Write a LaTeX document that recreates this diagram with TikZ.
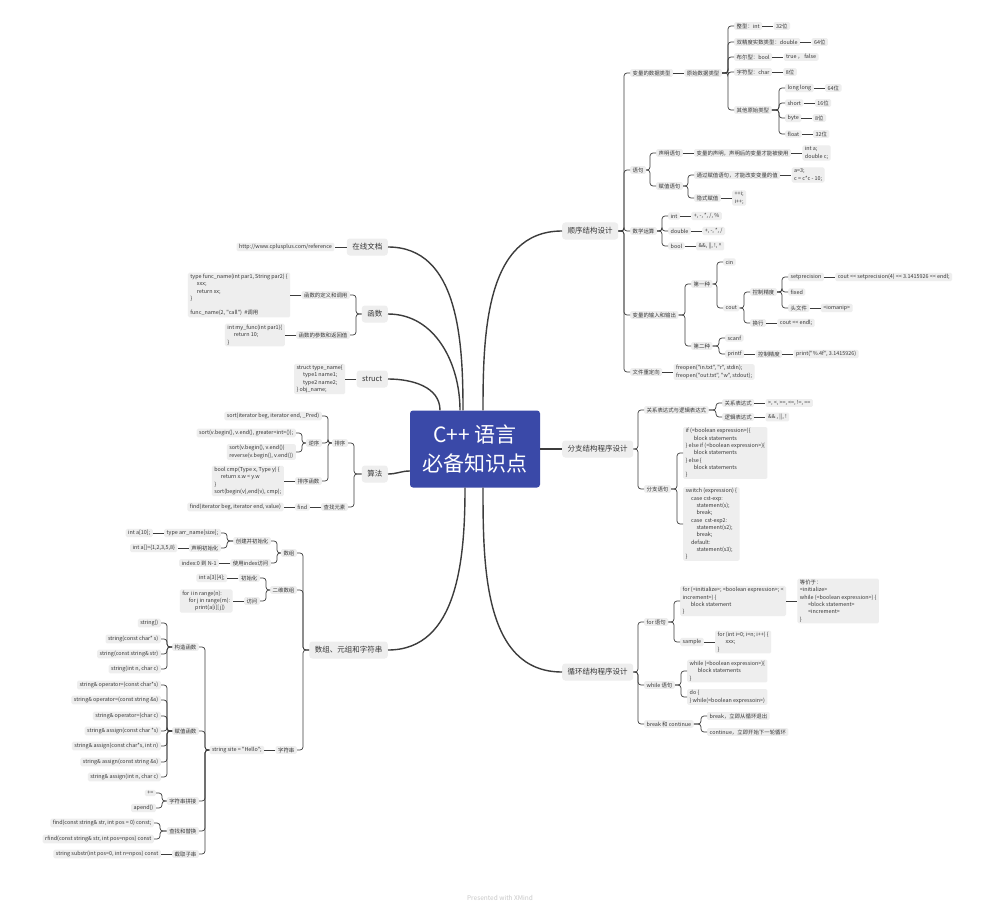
\documentclass[tikz,border=0pt]{standalone}
\usepackage{fontspec}
\newfontfamily\xmfont{Noto Sans CJK SC}
\usetikzlibrary{calc,positioning}
\definecolor{rootblue}{RGB}{58,73,168}
\definecolor{boxgray}{RGB}{238,238,238}
\definecolor{inkgray}{RGB}{55,55,55}
\definecolor{wiregray}{RGB}{60,60,60}
\definecolor{footgray}{RGB}{200,200,200}
% elbow links: spine sits 6pt before the child
\newcommand{\rlink}[2]{\draw[link] let \p1=(#2.west), \p2=(#1.east) in (\p2) -- (\x1-6pt,\y2) |- (\p1);}
\newcommand{\llink}[2]{\draw[link] let \p1=(#2.east), \p2=(#1.west) in (\p2) -- (\x1+6pt,\y2) |- (\p1);}
\tikzset{
  root/.style={fill=rootblue, text=white, rounded corners=3pt, minimum width=130pt, minimum height=77pt, inner sep=0pt, align=center, font=\xmfont\fontsize{21}{29}\selectfont},
  topic/.style={fill=boxgray, text=inkgray, rounded corners=3pt, inner xsep=5.5pt, inner ysep=0pt, minimum height=17pt, font=\xmfont\fontsize{7.5}{9}\selectfont},
  leaf/.style={fill=boxgray, text=inkgray, rounded corners=1.5pt, inner xsep=2.5pt, inner ysep=1.4pt, align=left, font=\xmfont\fontsize{5.4}{7.3}\selectfont},
  rtopic/.style={topic, anchor=west}, ltopic/.style={topic, anchor=east},
  rleaf/.style={leaf, anchor=west}, lleaf/.style={leaf, anchor=east},
  link/.style={draw=wiregray, line width=0.7pt, rounded corners=3pt},
  trunk/.style={draw=wiregray, line width=1.4pt},
}

\begin{document}
\begin{tikzpicture}[x=1pt,y=-1pt]
        \fill[white] (0,0) rectangle (1000,909);
        \useasboundingbox (0,0) rectangle (1000,909);
        \node[root] (core) at (475,449) {C++ 语言\\必备知识点};
        \node[rtopic] (seq)  at (562,231) {顺序结构设计};
        \node[rtopic] (br)   at (562,449) {分支结构程序设计};
        \node[rtopic] (loop) at (562,672) {循环结构程序设计};
        \node[ltopic] (doc)  at (388,247) {在线文档};
        \node[ltopic] (func) at (388,314) {函数};
        \node[ltopic] (stru) at (388,379) {struct};
        \node[ltopic] (algo) at (388,474) {算法};
        \node[ltopic] (arr)  at (388,650) {数组、元组和字符串};
        \draw[trunk] ([xshift=8pt]core.north) to[out=90,in=180] (seq.west);
        \draw[trunk] (core.east) -- (br.west);
        \draw[trunk] ([xshift=8pt]core.south) to[out=-90,in=180] (loop.west);
        \draw[trunk] ([xshift=-12pt]core.north) to[out=90,in=0] (doc.east);
        \draw[trunk] ([xshift=-15pt]core.north) to[out=90,in=0] (func.east);
        \draw[trunk] ([xshift=-35pt]core.north) to[out=90,in=0] (stru.east);
        \draw[trunk] ([yshift=-22pt]core.west) to[out=180,in=0] (algo.east);
        \draw[trunk] ([xshift=-10pt]core.south) to[out=-90,in=0] (arr.east);

        % 顺序结构设计
        \node[rleaf] (vtype) at (630,73)  {变量的数据类型};
        \node[rleaf] (stmt)  at (630,170) {语句};
        \node[rleaf] (ops)   at (630,231) {数学运算};
        \node[rleaf] (io)    at (630,315) {变量的输入和输出};
        \node[rleaf] (redir) at (630,372) {文件重定向};
        \rlink{seq}{vtype} \rlink{seq}{stmt} \rlink{seq}{ops} \rlink{seq}{io} \rlink{seq}{redir}
        \node[rleaf, right=11pt of vtype] (prim) {原始数据类型};
        \draw[link] (vtype) -- (prim);
        \node[rleaf] (tint)  at (734,26)  {整型：int};
        \node[rleaf] (tdbl)  at (734,42)  {双精度实数类型：double};
        \node[rleaf] (tbool) at (734,57)  {布尔型：bool};
        \node[rleaf] (tchr)  at (734,72)  {字符型：char};
        \node[rleaf] (tmore) at (734,110) {其他原始类型};
        \rlink{prim}{tint} \rlink{prim}{tdbl} \rlink{prim}{tbool} \rlink{prim}{tchr} \rlink{prim}{tmore}
        \node[rleaf, right=11pt of tint]  (tintv)  {32位};
        \node[rleaf, right=11pt of tdbl]  (tdblv)  {64位};
        \node[rleaf, right=11pt of tbool] (tboolv) {true ， false};
        \node[rleaf, right=11pt of tchr]  (tchrv)  {8位};
        \draw[link] (tint) -- (tintv); \draw[link] (tdbl) -- (tdblv);
        \draw[link] (tbool) -- (tboolv); \draw[link] (tchr) -- (tchrv);
        \node[rleaf] (tll) at (785,88)  {long long};
        \node[rleaf] (tsh) at (785,103) {short};
        \node[rleaf] (tby) at (785,118) {byte};
        \node[rleaf] (tfl) at (785,134) {float};
        \rlink{tmore}{tll} \rlink{tmore}{tsh} \rlink{tmore}{tby} \rlink{tmore}{tfl}
        \node[rleaf, right=11pt of tll] (tllv) {64位};
        \node[rleaf, right=11pt of tsh] (tshv) {16位};
        \node[rleaf, right=11pt of tby] (tbyv) {8位};
        \node[rleaf, right=11pt of tfl] (tflv) {32位};
        \draw[link] (tll) -- (tllv); \draw[link] (tsh) -- (tshv);
        \draw[link] (tby) -- (tbyv); \draw[link] (tfl) -- (tflv);

        \node[rleaf] (decl) at (656,153) {声明语句};
        \node[rleaf] (asg)  at (656,186) {赋值语句};
        \rlink{stmt}{decl} \rlink{stmt}{asg}
        \node[rleaf, right=11pt of decl] (decl2) {变量的声明，声明后的变量才能被使用};
        \node[rleaf, right=11pt of decl2] (decl3) {int a;\\double c;};
        \draw[link] (decl) -- (decl2); \draw[link] (decl2) -- (decl3);
        \node[rleaf] (asg1) at (694,175) {通过赋值语句，才能改变变量的值};
        \node[rleaf] (asg2) at (694,198) {隐式赋值};
        \rlink{asg}{asg1} \rlink{asg}{asg2}
        \node[rleaf, right=11pt of asg1] (asg1b) {a=3;\\c = c*c - 10;};
        \node[rleaf, right=11pt of asg2] (asg2b) {++i;\\i++;};
        \draw[link] (asg1) -- (asg1b); \draw[link] (asg2) -- (asg2b);

        \node[rleaf] (mint)  at (668,216) {int};
        \node[rleaf] (mdbl)  at (668,231) {double};
        \node[rleaf] (mbool) at (668,246) {bool};
        \rlink{ops}{mint} \rlink{ops}{mdbl} \rlink{ops}{mbool}
        \node[rleaf, right=11pt of mint]  (mint2)  {+, -, *, /, \%};
        \node[rleaf, right=11pt of mdbl]  (mdbl2)  {+, -, *, /};
        \node[rleaf, right=11pt of mbool] (mbool2) {\&\&, ||, !, \textasciicircum};
        \draw[link] (mint) -- (mint2); \draw[link] (mdbl) -- (mdbl2); \draw[link] (mbool) -- (mbool2);

        \node[rleaf] (way1) at (691,284) {第一种};
        \node[rleaf] (way2) at (691,346) {第二种};
        \rlink{io}{way1} \rlink{io}{way2}
        \node[rleaf] (cin)  at (723,262) {cin};
        \node[rleaf] (cout) at (723,308) {cout};
        \rlink{way1}{cin} \rlink{way1}{cout}
        \node[rleaf] (prec) at (750,292) {控制精度};
        \node[rleaf] (endl) at (750,323) {换行};
        \rlink{cout}{prec} \rlink{cout}{endl}
        \node[rleaf] (setp)  at (788,277) {setprecision};
        \node[rleaf] (fixed) at (788,292) {fixed};
        \node[rleaf] (hdr)   at (788,308) {头文件};
        \rlink{prec}{setp} \rlink{prec}{fixed} \rlink{prec}{hdr}
        \node[rleaf, right=11pt of setp] (setp2) {cout << setprecision(4) << 3.1415926 << endl;};
        \node[rleaf, right=11pt of hdr]  (hdr2)  {<iomanip>};
        \node[rleaf, right=11pt of endl] (endl2) {cout << endl;};
        \draw[link] (setp) -- (setp2); \draw[link] (hdr) -- (hdr2); \draw[link] (endl) -- (endl2);
        \node[rleaf] (scanf)  at (725,338) {scanf};
        \node[rleaf] (printf) at (725,354) {printf};
        \rlink{way2}{scanf} \rlink{way2}{printf}
        \node[rleaf, right=11pt of printf] (prec2) {控制精度};
        \node[rleaf, right=11pt of prec2]  (prec3) {print("\%.4f", 3.1415926)};
        \draw[link] (printf) -- (prec2); \draw[link] (prec2) -- (prec3);
        \node[rleaf, right=11pt of redir] (redir2) {freopen("in.txt", "r", stdin);\\freopen("out.txt", "w", stdout);};
        \draw[link] (redir) -- (redir2);

        % 分支结构程序设计
        \node[rleaf] (rel) at (644,410) {关系表达式与逻辑表达式};
        \node[rleaf] (bst) at (644,489) {分支语句};
        \rlink{br}{rel} \rlink{br}{bst}
        \node[rleaf] (rel1) at (722,403) {关系表达式};
        \node[rleaf] (rel2) at (722,417) {逻辑表达式};
        \rlink{rel}{rel1} \rlink{rel}{rel2}
        \node[rleaf, right=11pt of rel1] (rel1b) {>, <, >=, <=, !=, ==};
        \node[rleaf, right=11pt of rel2] (rel2b) {\&\& , ||, !};
        \draw[link] (rel1) -- (rel1b); \draw[link] (rel2) -- (rel2b);
        \node[rleaf] (ifb) at (683,453) {if (<boolean expression>)\{\\\hspace*{1.5em}block statements\\\} else if (<boolean expression>)\{\\\hspace*{1.5em}block statements\\\} else \{\\\hspace*{1.5em}block statements\\\}};
        \node[rleaf] (swb) at (683,524) {switch (expression) \{\\\hspace*{1em}case cst-exp:\\\hspace*{2em}statement(s);\\\hspace*{2em}break;\\\hspace*{1em}case~ cst-exp2:\\\hspace*{2em}statement(s2);\\\hspace*{2em}break;\\\hspace*{1em}default:\\\hspace*{2em}statement(s3);\\\}};
        \rlink{bst}{ifb} \rlink{bst}{swb}

        % 循环结构程序设计
        \node[rleaf] (forst) at (644,622) {for 语句};
        \node[rleaf] (whst)  at (644,685) {while 语句};
        \node[rleaf] (brk)   at (644,724) {break 和 continue};
        \rlink{loop}{forst} \rlink{loop}{whst} \rlink{loop}{brk}
        \node[rleaf] (forb)   at (680,601) {for (<initialize>; <boolean expression>; <\\increment>) \{\\\hspace*{1.5em}block statement\\\}};
        \node[rleaf] (sample) at (680,642) {sample};
        \rlink{forst}{forb} \rlink{forst}{sample}
        \node[rleaf, right=11pt of forb] (forb2) {等价于：\\<initialize>\\while (<boolean expression>) \{\\\hspace*{1.5em}<block statement>\\\hspace*{1.5em}<increment>\\\}};
        \node[rleaf, right=11pt of sample] (sample2) {for (int i=0; i<n; i++) \{\\\hspace*{1.5em}xxx;\\\}};
        \draw[link] (forb) -- (forb2); \draw[link] (sample) -- (sample2);
        \node[rleaf] (whb) at (687,671) {while (<boolean expression>)\{\\\hspace*{1.5em}block statements\\\}};
        \node[rleaf] (dob) at (687,697) {do \{\\\} while(<boolean expressoin>)};
        \rlink{whst}{whb} \rlink{whst}{dob}
        \node[rleaf] (brk1) at (707,716) {break，立即从循环退出};
        \node[rleaf] (brk2) at (707,732) {continue，立即开始下一轮循环};
        \rlink{brk}{brk1} \rlink{brk}{brk2}

        % 在线文档 / 函数 / struct
        \node[lleaf, left=12pt of doc] (url) {http://www.cplusplus.com/reference};
        \draw[link] (doc) -- (url);
        \node[lleaf] (fdef) at (350,295) {函数的定义和调用};
        \node[lleaf] (fpar) at (350,335) {函数的参数和返回值};
        \llink{func}{fdef} \llink{func}{fpar}
        \node[lleaf, left=11pt of fdef] (fdef2) {type func\_name(int par1, String par2) \{\\\hspace*{1.2em}xxx;\\\hspace*{1.2em}return xx;\\\}\\[7.3pt]func\_name(2, "call")~~\#调用};
        \node[lleaf, left=11pt of fpar] (fpar2) {int my\_func(int par1)\{\\\hspace*{1.2em}return 10;\\\}};
        \draw[link] (fdef) -- (fdef2); \draw[link] (fpar) -- (fpar2);
        \node[lleaf, left=11pt of stru] (stru2) {struct type\_name\{\\\hspace*{1.2em}type1 name1;\\\hspace*{1.2em}type2 name2;\\\} obj\_name;};
        \draw[link] (stru) -- (stru2);

        % 算法
        \node[lleaf] (sort) at (348,443) {排序};
        \node[lleaf] (seek) at (348,507) {查找元素};
        \llink{algo}{sort} \llink{algo}{seek}
        \node[lleaf] (sort1) at (322,416) {sort(iterator beg, iterator end, \_Pred)};
        \node[lleaf] (rev)   at (322,443) {逆序};
        \node[lleaf] (sfun)  at (322,481) {排序函数};
        \llink{sort}{sort1} \llink{sort}{rev} \llink{sort}{sfun}
        \node[lleaf] (rev1) at (296,433) {sort(v.begin(), v.end(), greater<int>());};
        \node[lleaf] (rev2) at (296,452) {sort(v.begin(), v.end())\\reverse(v.begin(), v.end())};
        \llink{rev}{rev1} \llink{rev}{rev2}
        \node[lleaf, left=11pt of sfun] (sfun2) {bool cmp(Type x, Type y) \{\\\hspace*{1.2em}return x.w < y.w\\\}\\sort(begin(v),end(v), cmp);};
        \draw[link] (sfun) -- (sfun2);
        \node[lleaf, left=11pt of seek]  (seek2) {find};
        \node[lleaf, left=11pt of seek2] (seek3) {find(iterator beg, iterator end, value)};
        \draw[link] (seek) -- (seek2); \draw[link] (seek2) -- (seek3);

        % 数组、元组和字符串
        \node[lleaf] (arr1) at (297,553) {数组};
        \node[lleaf] (arr2) at (297,590) {二维数组};
        \node[lleaf] (str)  at (297,750) {字符串};
        \llink{arr}{arr1} \llink{arr}{arr2} \llink{arr}{str}
        \node[lleaf] (mk)  at (271,541) {创建并初始化};
        \node[lleaf] (idx) at (271,563) {使用index访问};
        \llink{arr1}{mk} \llink{arr1}{idx}
        \node[lleaf] (mkt) at (221,533) {type arr\_name[size];};
        \node[lleaf] (mkd) at (221,548) {声明初始化};
        \llink{mk}{mkt} \llink{mk}{mkd}
        \node[lleaf, left=11pt of mkt] (mkt2) {int a[10];};
        \node[lleaf, left=11pt of mkd] (mkd2) {int a[]=\{1,2,3,5,8\}};
        \node[lleaf, left=11pt of idx] (idx2) {index:0 到 N-1};
        \draw[link] (mkt) -- (mkt2); \draw[link] (mkd) -- (mkd2); \draw[link] (idx) -- (idx2);
        \node[lleaf] (ini) at (260,578) {初始化};
        \node[lleaf] (acc) at (260,601) {访问};
        \llink{arr2}{ini} \llink{arr2}{acc}
        \node[lleaf, left=11pt of ini] (ini2) {int a[3][4];};
        \node[lleaf, left=11pt of acc] (acc2) {for i in range(n):\\\hspace*{1.2em}for j in range(m):\\\hspace*{2.4em}print(a[i][j])};
        \draw[link] (ini) -- (ini2); \draw[link] (acc) -- (acc2);
        \node[lleaf, left=11pt of str] (site) {string site = "Hello";};
        \draw[link] (str) -- (site);
        \node[lleaf] (ctor) at (199,647) {构造函数};
        \node[lleaf] (asf)  at (199,731) {赋值函数};
        \node[lleaf] (cat)  at (199,801) {字符串拼接};
        \node[lleaf] (fnd)  at (199,831) {查找和替换};
        \node[lleaf] (sub)  at (199,854) {截取子串};
        \llink{site}{ctor} \llink{site}{asf} \llink{site}{cat} \llink{site}{fnd} \llink{site}{sub}
        \node[lleaf] (ct1) at (161,623) {string()};
        \node[lleaf] (ct2) at (161,639) {string(const char* s)};
        \node[lleaf] (ct3) at (161,654) {string(const string\& str)};
        \node[lleaf] (ct4) at (161,669) {string(int n, char c)};
        \llink{ctor}{ct1} \llink{ctor}{ct2} \llink{ctor}{ct3} \llink{ctor}{ct4}
        \node[lleaf] (as1) at (161,685) {string\& operator=(const char*s)};
        \node[lleaf] (as2) at (161,700) {string\& operator=(const string \&s)};
        \node[lleaf] (as3) at (161,716) {string\& operator=(char c)};
        \node[lleaf] (as4) at (161,731) {string\& assign(const char *s)};
        \node[lleaf] (as5) at (161,746) {string\& assign(const char*s, int n)};
        \node[lleaf] (as6) at (161,762) {string\& assign(const string \&s)};
        \node[lleaf] (as7) at (161,777) {string\& assign(int n, char c)};
        \llink{asf}{as1} \llink{asf}{as2} \llink{asf}{as3} \llink{asf}{as4}
        \llink{asf}{as5} \llink{asf}{as6} \llink{asf}{as7}
        \node[lleaf] (cat1) at (156,793) {+=};
        \node[lleaf] (cat2) at (156,808) {apend()};
        \llink{cat}{cat1} \llink{cat}{cat2}
        \node[lleaf] (fnd1) at (154,823) {find(const string\& str, int pos = 0) const;};
        \node[lleaf] (fnd2) at (154,839) {rfind(const string\& str, int pos=npos) const};
        \llink{fnd}{fnd1} \llink{fnd}{fnd2}
        \node[lleaf, left=11pt of sub] (sub2) {string substr(int pos=0, int n=npos) const};
        \draw[link] (sub) -- (sub2);

        \node[text=footgray, font=\xmfont\fontsize{6.5}{8}\selectfont] (credit) at (500,898) {Presented with XMind};
    \end{tikzpicture}
\end{document}
